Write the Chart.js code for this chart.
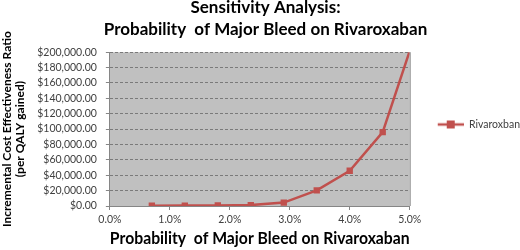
<!DOCTYPE html>
<html>
<head>
<meta charset="utf-8">
<script src="https://cdn.jsdelivr.net/npm/chart.js@4/dist/chart.umd.min.js"></script>
<style>
  html, body { margin: 0; padding: 0; background: #fff; }
  #wrap { width: 520px; height: 250px; overflow: hidden; }
</style>
</head>
<body>
<div id="wrap"><canvas id="myChart" width="520" height="250"></canvas></div>
<script>
// values
const probability = [0.7, 1.25, 1.8, 2.35, 2.9, 3.45, 4.0, 4.55, 5.1];
const icer = [300, 500, 800, 1200, 4400, 20400, 45800, 96000, 225000];
const seriesName = 'Rivaroxban';
const chartTitle = ['Sensitivity Analysis:', 'Probability  of Major Bleed on Rivaroxaban'];
const xTitle = 'Probability  of Major Bleed on Rivaroxaban';
const yTitle = ['Incremental Cost Effectiveness Ratio', '(per QALY gained)'];

const red = '#C0504D';
const fontFam = 'Lato, "Open Sans", sans-serif';

// legend symbol: line with a square in the middle, blank on the left
function legendSymbol() {
    const c = document.createElement('canvas');
    c.width = 54;
    c.height = 10;
    const g = c.getContext('2d');
    g.strokeStyle = red;
    g.lineWidth = 2.5;
    g.beginPath();
    g.moveTo(28, 5);
    g.lineTo(54, 5);
    g.stroke();
    g.fillStyle = red;
    g.fillRect(37, 1, 8, 8);
    return c;
}

const plotBg = {
    id: 'plotBg',
    beforeDraw(chart) {
        const a = chart.chartArea;
        const ctx = chart.ctx;
        ctx.save();
        ctx.fillStyle = '#c0c0c0';
        ctx.fillRect(a.left, a.top, a.right - a.left, a.bottom - a.top);
        ctx.restore();
    },
    afterDatasetsDraw(chart) {
        const a = chart.chartArea;
        const ctx = chart.ctx;
        ctx.save();
        ctx.strokeStyle = '#8a8a8a';
        ctx.lineWidth = 1;
        ctx.beginPath();
        ctx.moveTo(a.right + 0.5, a.top);
        ctx.lineTo(a.right + 0.5, a.bottom);
        ctx.stroke();
        ctx.restore();
    }
};

const data = {
    datasets: [{
        label: seriesName,
        data: probability.map(function(p, i) { return {x: p, y: icer[i]}; }),
        borderColor: red,
        backgroundColor: red,
        borderWidth: 2.5,
        pointStyle: 'rect',
        pointRadius: 4.5,
        pointHoverRadius: 4.5,
        pointBorderWidth: 0,
        tension: 0
    }]
};

const config = {
    type: 'line',
    data: data,
    plugins: [plotBg],
    options: {
        responsive: false,
        animation: false,
        events: [],
        layout: { padding: { left: 1, right: -10, top: 0, bottom: 1 } },
        plugins: {
            title: {
                display: true,
                text: chartTitle,
                color: '#000',
                font: { family: fontFam, size: 17, weight: 'bold', lineHeight: 1.3 },
                padding: { top: -4, bottom: 12 }
            },
            legend: {
                position: 'right',
                labels: {
                    usePointStyle: true,
                    pointStyle: legendSymbol(),
                    pointStyleWidth: 54,
                    padding: 0,
                    color: '#404040',
                    font: { family: fontFam, size: 10.5 }
                }
            },
            tooltip: { enabled: false }
        },
        scales: {
            x: {
                type: 'linear',
                min: 0,
                max: 5,
                ticks: {
                    stepSize: 1,
                    color: '#404040',
                    font: { family: fontFam, size: 10.5 },
                    padding: 3,
                    callback: function(v) { return v.toFixed(1) + '%'; }
                },
                grid: { drawOnChartArea: false, drawTicks: true, tickLength: 4, color: '#868686' },
                border: { color: '#868686' },
                title: {
                    display: true,
                    text: xTitle,
                    color: '#000',
                    font: { family: fontFam, size: 17, weight: 'bold' },
                    padding: { top: 0, bottom: 0 }
                }
            },
            y: {
                min: 0,
                max: 200000,
                ticks: {
                    stepSize: 20000,
                    autoSkip: false,
                    color: '#404040',
                    font: { family: fontFam, size: 10.5 },
                    padding: 9,
                    callback: function(v) {
                        return '$' + v.toLocaleString('en-US', { minimumFractionDigits: 2, maximumFractionDigits: 2 });
                    }
                },
                grid: { color: '#7a7a7a', tickLength: 4, tickColor: '#868686' },
                border: { color: '#868686', dash: [3, 2] },
                title: {
                    display: true,
                    text: yTitle,
                    color: '#000',
                    font: { family: fontFam, size: 12, weight: 'bold', lineHeight: 1.05 },
                    padding: { top: 0, bottom: 2 }
                }
            }
        }
    }
};

const myChart = new Chart(document.getElementById('myChart'), config);
</script>
</body>
</html>
